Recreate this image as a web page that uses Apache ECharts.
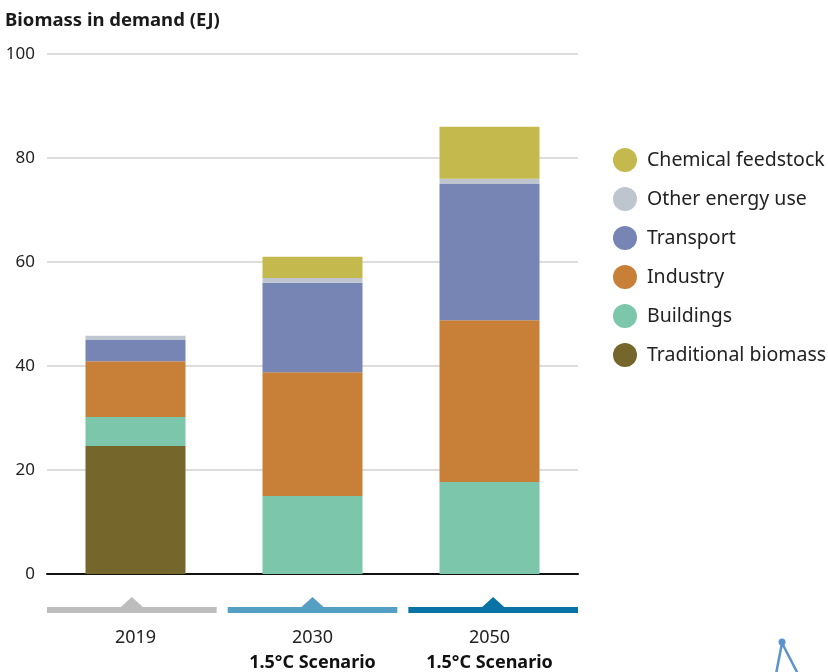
<!DOCTYPE html>
<html>
<head>
<meta charset="utf-8">
<script src="https://cdn.jsdelivr.net/npm/echarts@6/dist/echarts.min.js"></script>
<style>
  html, body { margin: 0; padding: 0; background: #fff; }
  #chart { width: 828px; height: 672px; }
</style>
</head>
<body>
<div id="chart"></div>
<script>
// data (EJ)
const categories = ['2019', '2030', '2050'];
const scenarios = ['', '1.5°C Scenario', '1.5°C Scenario'];
const traditional = [24.6, 0, 0];
const buildings = [5.6, 15.0, 17.7];
const industry = [10.7, 23.8, 31.1];
const transport = [4.1, 17.2, 26.2];
const otherEnergy = [0.8, 0.9, 1.0];
const chemical = [0, 4.1, 10.0];

const FONT = '"Noto Sans", sans-serif';
const bandColors = ['#BDBDBD', '#559FC4', '#0A73A5'];
const GRID = { left: 47, right: 250, top: 54, bottom: 98 };

const chart = echarts.init(document.getElementById('chart'));

function bar(name, data, color) {
  return {
    name: name,
    type: 'bar',
    stack: 'total',
    barWidth: 100,
    data: data,
    itemStyle: { color: color },
    emphasis: { disabled: true }
  };
}

const option = {
  animation: false,
  textStyle: { fontFamily: FONT },
  title: {
    text: 'Biomass in demand (EJ)',
    left: 0,
    top: 6,
    textStyle: { fontFamily: FONT, fontSize: 18.5, fontWeight: 'bold', color: '#1a1a1a' }
  },
  legend: {
    orient: 'vertical',
    left: 608,
    top: 143,
    icon: 'circle',
    itemWidth: 24,
    itemHeight: 24,
    itemGap: 15,
    textStyle: { fontFamily: FONT, fontSize: 19.5, color: '#222', padding: [0, 0, 0, 5] },
    data: ['Chemical feedstock', 'Other energy use', 'Transport', 'Industry', 'Buildings', 'Traditional biomass']
  },
  grid: Object.assign({ outerBoundsMode: 'none', containLabel: false }, GRID),
  xAxis: {
    type: 'category',
    data: categories,
    axisTick: { show: false },
    axisLine: { show: true, lineStyle: { color: '#111', width: 2 } },
    axisLabel: {
      margin: 51,
      lineHeight: 25,
      formatter: function (v, i) {
        return scenarios[i] ? '{y|' + v + '}\n{s|' + scenarios[i] + '}' : '{y|' + v + '}';
      },
      verticalAlign: 'top',
      rich: {
        y: { fontFamily: FONT, fontSize: 18, color: '#222', lineHeight: 25 },
        s: { fontFamily: FONT, fontSize: 18, fontWeight: 'bold', color: '#111', lineHeight: 25 }
      }
    }
  },
  yAxis: {
    type: 'value',
    min: 0,
    max: 100,
    interval: 20,
    axisLine: { show: false },
    axisTick: { show: false },
    axisLabel: { margin: 12, fontFamily: FONT, fontSize: 17, color: '#222' },
    splitLine: { lineStyle: { color: '#dcdcdc', width: 2 } }
  },
  series: [
    bar('Traditional biomass', traditional, '#75672B'),
    bar('Buildings', buildings, '#7CC6AC'),
    bar('Industry', industry, '#C87F37'),
    bar('Transport', transport, '#7785B5'),
    bar('Other energy use', otherEnergy, '#BFC5CE'),
    bar('Chemical feedstock', chemical, '#C4B94D')
  ]
};

chart.setOption(option);

// coloured bands with small triangles under the axis
const zeroY = chart.convertToPixel({ yAxisIndex: 0 }, 0);
const x0 = GRID.left;
const x1 = 828 - GRID.right;
const gap = 11;
const bandW = (x1 - x0 - gap * 2) / 3;
const bandTop = zeroY + 33;
const graphics = [];
categories.forEach(function (c, i) {
  const bx = x0 + i * (bandW + gap);
  const cx = bx + bandW / 2;
  graphics.push({
    type: 'rect',
    shape: { x: bx, y: bandTop, width: bandW, height: 6 },
    style: { fill: bandColors[i] },
    silent: true
  });
  graphics.push({
    type: 'polygon',
    shape: { points: [[cx - 11, bandTop], [cx, bandTop - 10], [cx + 11, bandTop]] },
    style: { fill: bandColors[i] },
    silent: true
  });
});
// small blue icon at the bottom-right corner
graphics.push({
  type: 'polyline',
  shape: { points: [[776, 674], [782, 643], [798, 674]] },
  style: { stroke: '#5B93CC', lineWidth: 2.5, fill: null },
  silent: true
});
graphics.push({
  type: 'circle',
  shape: { cx: 782, cy: 642, r: 3.5 },
  style: { fill: '#5B93CC' },
  silent: true
});
chart.setOption({ graphic: graphics });
</script>
</body>
</html>
